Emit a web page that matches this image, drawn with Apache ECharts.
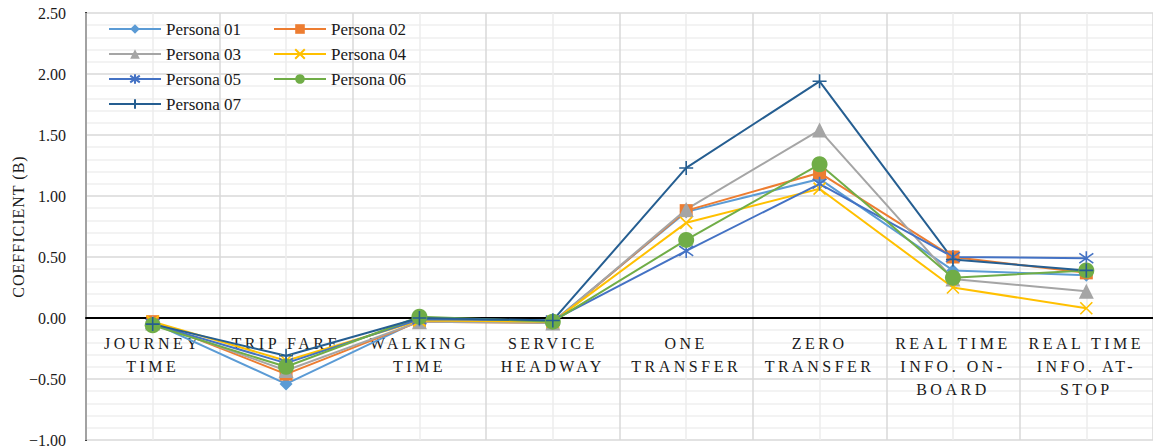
<!DOCTYPE html>
<html>
<head>
<meta charset="utf-8">
<title>Coefficient (B) by attribute and persona</title>
<script src="https://cdn.jsdelivr.net/npm/echarts@6/dist/echarts.min.js"></script>
<style>
  html, body { margin: 0; padding: 0; background: #ffffff; }
  #chart { width: 1153px; height: 448px; }
</style>
</head>
<body>
<div id="chart"></div>
<script>
// Attribute categories (already wrapped onto lines as printed under the axis)
const categories = [
  'JOURNEY\nTIME',
  'TRIP FARE',
  'WALKING\nTIME',
  'SERVICE\nHEADWAY',
  'ONE\nTRANSFER',
  'ZERO\nTRANSFER',
  'REAL TIME\nINFO. ON-\nBOARD',
  'REAL TIME\nINFO. AT-\nSTOP'
];

// Estimated coefficients per persona
const persona01 = [-0.04, -0.54, -0.02, -0.03, 0.87, 1.14, 0.39, 0.35];
const persona02 = [-0.03, -0.46, -0.03, -0.04, 0.88, 1.19, 0.50, 0.37];
const persona03 = [-0.04, -0.43, -0.03, -0.04, 0.89, 1.54, 0.32, 0.22];
const persona04 = [-0.03, -0.35, -0.02, -0.03, 0.78, 1.06, 0.25, 0.08];
const persona05 = [-0.05, -0.37, -0.01, -0.02, 0.55, 1.10, 0.50, 0.49];
const persona06 = [-0.06, -0.40, 0.01, -0.03, 0.64, 1.26, 0.33, 0.39];
const persona07 = [-0.05, -0.31, 0.00, -0.02, 1.23, 1.94, 0.48, 0.39];

const seriesNames = ['Persona 01', 'Persona 02', 'Persona 03', 'Persona 04',
                     'Persona 05', 'Persona 06', 'Persona 07'];

// Value axis range
const yMin = -1.0;
const yMax = 2.5;
const yStep = 0.5;
const yAxisTitle = 'COEFFICIENT (B)';

const SERIF = "'Liberation Serif', 'DejaVu Serif', serif";
const TEXT = '#1a1a1a';

// Stroke-only marker shapes
const SYM_X = 'path://M0,0L10,10M10,0L0,10';
const SYM_STAR = 'path://M1.5,1.5L8.5,8.5M8.5,1.5L1.5,8.5M5,0L5,10';
const SYM_PLUS = 'path://M5,0L5,10M0,5L10,5';

const styles = [
  { data: persona01, color: '#5B9BD5', symbol: 'diamond',  size: 13, stroke: false },
  { data: persona02, color: '#ED7D31', symbol: 'rect',     size: 13, stroke: false },
  { data: persona03, color: '#A5A5A5', symbol: 'triangle', size: 15, stroke: false },
  { data: persona04, color: '#FFC000', symbol: SYM_X,      size: 12, stroke: true },
  { data: persona05, color: '#4472C4', symbol: SYM_STAR,   size: 14, stroke: true },
  { data: persona06, color: '#70AD47', symbol: 'circle',   size: 16, stroke: false },
  { data: persona07, color: '#255E91', symbol: SYM_PLUS,   size: 14, stroke: true }
];

const series = styles.map((s, i) => ({
  name: seriesNames[i],
  type: 'line',
  xAxisIndex: 0,
  yAxisIndex: 0,
  data: s.data,
  color: s.color,
  symbol: s.symbol,
  symbolSize: s.size,
  showAllSymbol: true,
  lineStyle: { color: s.color, width: 2 },
  itemStyle: s.stroke
    ? { color: s.color, borderColor: s.color, borderWidth: 1.6 }
    : { color: s.color, borderColor: s.color, borderWidth: 0 },
  emphasis: { disabled: true },
  animation: false
}));

const chart = echarts.init(document.getElementById('chart'), null, { renderer: 'svg' });

chart.setOption({
  backgroundColor: '#ffffff',
  animation: false,
  textStyle: { fontFamily: SERIF },
  grid: { left: 86, right: 0, top: 13, bottom: 8, outerBoundsMode: 'none' },
  legend: {
    data: seriesNames,
    left: 108,
    top: 20,
    padding: 0,
    width: 330,
    orient: 'horizontal',
    itemWidth: 52,
    itemHeight: 12,
    itemGap: 7,
    textStyle: {
      fontFamily: SERIF,
      fontSize: 17,
      color: TEXT,
      width: 100,
      lineHeight: 18
    }
  },
  xAxis: [
    {
      type: 'category',
      data: categories,
      boundaryGap: true,
      position: 'bottom',
      offset: 0,
      axisLine: { show: true, onZero: false, lineStyle: { color: '#000000', width: 2 } },
      axisTick: { show: false },
      axisLabel: {
        interval: 0,
        margin: 14,
        fontFamily: SERIF,
        fontSize: 16,
        lineHeight: 23,
        color: TEXT,
        align: 'center'
      },
      splitLine: { show: true, interval: 0, lineStyle: { color: '#D9D9D9', width: 1.5 } },
      z: 3
    },
    {
      // helper axis: faint lines through each category centre
      type: 'value',
      min: 0,
      max: categories.length,
      interval: 1,
      show: true,
      position: 'top',
      axisLine: { show: false },
      axisTick: { show: false },
      axisLabel: { show: false },
      splitLine: { show: false },
      minorTick: { show: false, splitNumber: 2 },
      minorSplitLine: { show: true, lineStyle: { color: '#EDEDED', width: 1.5 } }
    }
  ],
  yAxis: {
    type: 'value',
    min: yMin,
    max: yMax,
    interval: yStep,
    name: yAxisTitle,
    nameLocation: 'middle',
    nameGap: 60,
    nameMoveOverlap: false,
    nameRotate: 90,
    nameTextStyle: { fontFamily: SERIF, fontSize: 16, color: TEXT },
    axisLine: { show: true, onZero: false, lineStyle: { color: '#000000', width: 2 } },
    axisTick: { show: false },
    axisLabel: {
      margin: 20,
      fontFamily: SERIF,
      fontSize: 16,
      color: TEXT,
      formatter: v => (v < 0 ? '\u2212' : '') + Math.abs(v).toFixed(2)
    },
    splitLine: { show: true, lineStyle: { color: '#D9D9D9', width: 1.5 } },
    minorTick: { show: false, splitNumber: 5 },
    minorSplitLine: { show: true, lineStyle: { color: '#EFEFEF', width: 1.5 } }
  },
  series: series
});

// Move the category axis (line and labels) up to the zero value
const zeroPx = chart.convertToPixel({ yAxisIndex: 0 }, 0);
const bottomPx = chart.convertToPixel({ yAxisIndex: 0 }, yMin);
chart.setOption({ xAxis: [{ offset: zeroPx - bottomPx }] });

// Serif text throughout, spaced capitals for the attribute labels and axis title
const labelLines = new Set();
categories.forEach(c => c.split('\n').forEach(l => labelLines.add(l)));
function styleTexts() {
  const svg = document.querySelector('#chart svg');
  if (!svg) return;
  svg.querySelectorAll('text').forEach(t => {
    t.style.fontFamily = SERIF;
    if (labelLines.has(t.textContent)) {
      t.setAttribute('letter-spacing', '3.5');
    } else if (t.textContent === yAxisTitle) {
      t.setAttribute('letter-spacing', '1');
    }
  });
}
chart.on('finished', styleTexts);
styleTexts();
</script>
</body>
</html>
